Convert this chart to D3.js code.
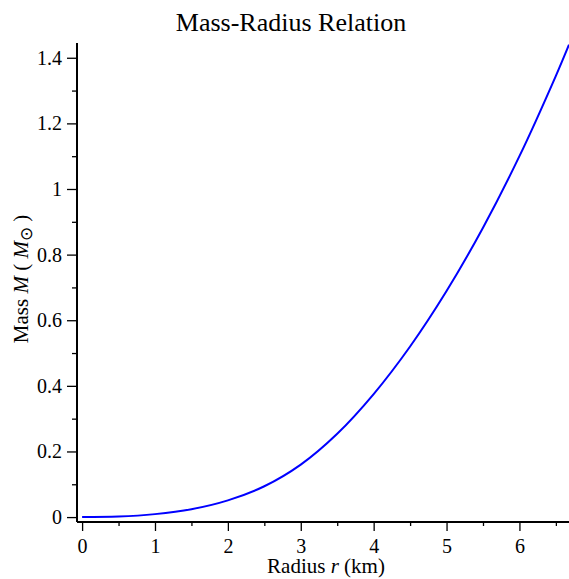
<!DOCTYPE html>
<html>
<head>
<meta charset="utf-8">
<script src="https://cdn.jsdelivr.net/npm/d3@7"></script>
<style>
  body { margin: 0; background: #fff; }
  text { font-family: "Liberation Serif", "Times New Roman", serif; }
</style>
</head>
<body>
<div id="chart"></div>
<script>
// radius (km) and enclosed mass (solar masses)
var radius = [0, 0.5, 1, 1.5, 2, 2.5, 3, 3.5, 4, 4.5, 5, 5.5, 6, 6.5, 6.68];
var mass = [0, 0.0015, 0.009, 0.024, 0.051, 0.094, 0.160, 0.254, 0.375, 0.520, 0.689, 0.882, 1.100, 1.345, 1.440];

var xMajor = [0, 1, 2, 3, 4, 5, 6];
var xMinor = [0.5, 1.5, 2.5, 3.5, 4.5, 5.5, 6.5];
var yMajor = [0, 0.2, 0.4, 0.6, 0.8, 1, 1.2, 1.4];
var yMinor = [0.1, 0.3, 0.5, 0.7, 0.9, 1.1, 1.3];

var width = 569,
    height = 579,
    plotLeft = 77, plotRight = 569, plotTop = 43, plotBottom = 522;

var svg = d3.select('#chart').append('svg')
  .attr('width', width)
  .attr('height', height);

var x = d3.scaleLinear().domain([-0.07, 6.68]).range([plotLeft, plotRight]);
var y = d3.scaleLinear().domain([-0.015, 1.445]).range([plotBottom, plotTop]);

// x axis
var gx = svg.append('g').attr('transform', 'translate(0,' + plotBottom + ')');
gx.call(d3.axisBottom(x).tickValues(xMajor).tickSize(9).tickPadding(8)
  .tickFormat(d3.format('d')));
gx.append('g').call(d3.axisBottom(x).tickValues(xMinor).tickSize(4).tickFormat(''))
  .select('.domain').remove();

// y axis
var gy = svg.append('g').attr('transform', 'translate(' + plotLeft + ',0)');
gy.call(d3.axisLeft(y).tickValues(yMajor).tickSize(10).tickPadding(5)
  .tickFormat(function(d) { return d === 0 || d === 1 ? d3.format('d')(d) : d3.format('.1f')(d); }));
gy.append('g').call(d3.axisLeft(y).tickValues(yMinor).tickSize(5).tickFormat(''))
  .select('.domain').remove();

gx.select('.domain').attr('d', 'M' + plotLeft + ',0H' + plotRight);
gy.select('.domain').attr('d', 'M0,' + plotTop + 'V' + plotBottom);
svg.selectAll('.domain').attr('stroke', '#000').attr('stroke-width', 2);
svg.selectAll('.tick line').attr('stroke', '#000').attr('stroke-width', 1.3);
svg.selectAll('.tick text').attr('font-size', 20).attr('fill', '#000')
  .attr('font-family', '"Liberation Serif", serif');

// curve
var line = d3.line()
  .x(function(d, i) { return x(radius[i]); })
  .y(function(d) { return y(d); })
  .curve(d3.curveCatmullRom);

svg.append('path')
  .datum(mass)
  .attr('d', line)
  .attr('fill', 'none')
  .attr('stroke', '#0000ff')
  .attr('stroke-width', 2);

// title
svg.append('text')
  .attr('x', 291).attr('y', 31)
  .attr('text-anchor', 'middle')
  .attr('font-size', 26)
  .text('Mass-Radius Relation');

// x label
var xl = svg.append('text')
  .attr('x', 326).attr('y', 573)
  .attr('text-anchor', 'middle')
  .attr('font-size', 21);
xl.append('tspan').text('Radius ');
xl.append('tspan').attr('font-style', 'italic').text('r');
xl.append('tspan').text(' (km)');

// y label
var yl = svg.append('text')
  .attr('transform', 'translate(28,279) rotate(-90)')
  .attr('text-anchor', 'middle')
  .attr('font-size', 21);
yl.append('tspan').text('Mass ');
yl.append('tspan').attr('font-style', 'italic').text('M');
yl.append('tspan').text(' ( ');
yl.append('tspan').attr('font-style', 'italic').text('M');
yl.append('tspan').attr('font-size', 17).attr('dy', 4).text('\u2299');
yl.append('tspan').attr('dy', -4).text(' )');
</script>
</body>
</html>
